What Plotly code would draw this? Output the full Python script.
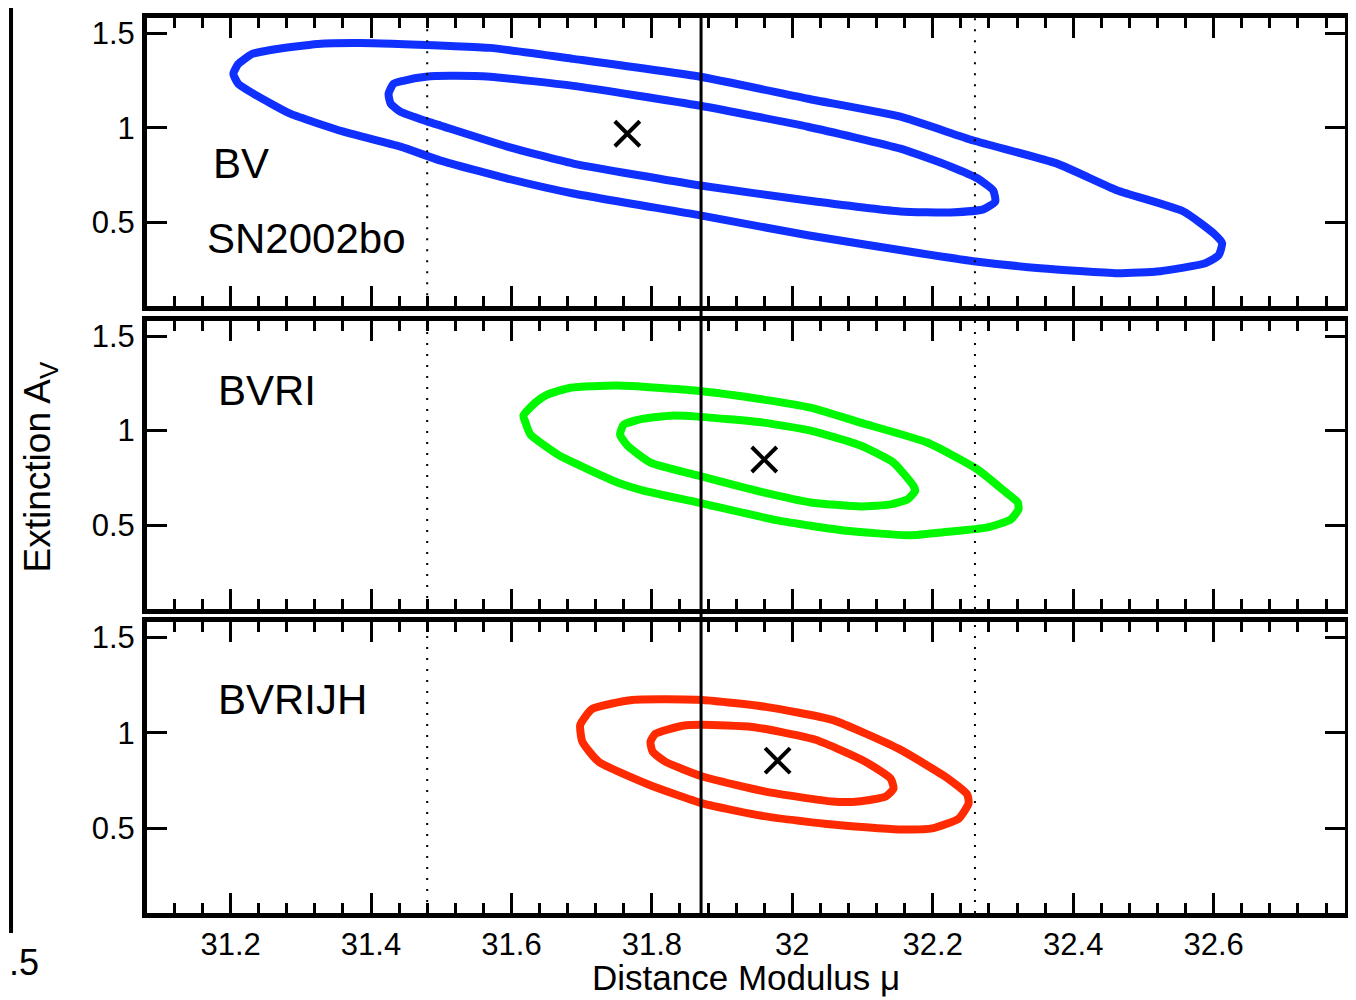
import plotly.graph_objects as go

# ---------------- data ----------------
# Panel 1: BV (SN2002bo)
bv_outer_x = [31.204, 31.211, 31.231, 31.257, 31.324, 31.385, 31.513, 31.570, 31.688, 31.869, 32.022, 32.154,
              32.258, 32.377, 32.463, 32.557, 32.600, 32.612, 32.607, 32.588, 32.524, 32.463, 32.353, 32.258,
              32.182, 32.022, 31.869, 31.688, 31.594, 31.499, 31.442, 31.361, 31.285, 31.233, 31.211, 31.204]
bv_outer_y = [1.285, 1.337, 1.390, 1.411, 1.443, 1.448, 1.432, 1.422, 1.364, 1.269, 1.153, 1.058,
              0.932, 0.810, 0.668, 0.557, 0.441, 0.389, 0.325, 0.283, 0.241, 0.230, 0.257, 0.294,
              0.336, 0.431, 0.536, 0.652, 0.731, 0.826, 0.900, 0.979, 1.074, 1.179, 1.232, 1.285]
bv_inner_x = [31.425, 31.432, 31.446, 31.478, 31.513, 31.570, 31.688, 31.869, 32.022, 32.154, 32.225, 32.264,
              32.286, 32.289, 32.272, 32.225, 32.154, 32.022, 31.869, 31.688, 31.594, 31.499, 31.481, 31.442,
              31.428, 31.425]
bv_inner_y = [1.179, 1.232, 1.248, 1.269, 1.274, 1.269, 1.221, 1.116, 1.005, 0.889, 0.795, 0.731,
              0.668, 0.610, 0.568, 0.552, 0.557, 0.615, 0.694, 0.810, 0.900, 1.011, 1.032, 1.084,
              1.127, 1.179]
bv_best = (31.765, 0.968)

# Panel 2: BVRI
bvri_outer_x = [31.617, 31.634, 31.651, 31.684, 31.751, 31.865, 31.959, 32.026, 32.097, 32.192, 32.264, 32.301,
                32.321, 32.322, 32.311, 32.278, 32.215, 32.168, 32.073, 31.979, 31.865, 31.788, 31.751, 31.694,
                31.666, 31.627, 31.620, 31.617]
bvri_outer_y = [1.079, 1.148, 1.190, 1.227, 1.238, 1.211, 1.164, 1.121, 1.042, 0.937, 0.794, 0.683,
                0.620, 0.583, 0.530, 0.488, 0.462, 0.446, 0.472, 0.525, 0.620, 0.683, 0.726, 0.821,
                0.873, 0.979, 1.042, 1.079]
bvri_inner_x = [31.755, 31.760, 31.788, 31.826, 31.865, 31.959, 32.026, 32.097, 32.144, 32.172, 32.175, 32.164,
                32.140, 32.097, 32.026, 31.959, 31.865, 31.798, 31.765, 31.755, 31.755]
bvri_inner_y = [0.989, 1.032, 1.063, 1.079, 1.074, 1.042, 1.000, 0.921, 0.831, 0.710, 0.683, 0.636,
                0.610, 0.599, 0.620, 0.673, 0.763, 0.831, 0.921, 0.974, 0.989]
bvri_best = (31.960, 0.847)

# Panel 3: BVRIJH
bvrijh_outer_x = [31.698, 31.715, 31.772, 31.872, 31.962, 32.057, 32.151, 32.222, 32.249, 32.251, 32.237, 32.199,
                  32.151, 32.057, 31.962, 31.872, 31.795, 31.724, 31.701, 31.698]
bvrijh_outer_y = [1.042, 1.125, 1.172, 1.172, 1.136, 1.068, 0.917, 0.760, 0.677, 0.630, 0.551, 0.499,
                  0.494, 0.520, 0.562, 0.630, 0.729, 0.849, 0.953, 1.042]
bvrijh_inner_x = [31.798, 31.805, 31.844, 31.872, 31.943, 32.033, 32.104, 32.140, 32.144, 32.133, 32.094, 32.057,
                  31.962, 31.872, 31.819, 31.801, 31.798]
bvrijh_inner_y = [0.953, 0.995, 1.037, 1.042, 1.031, 0.964, 0.849, 0.760, 0.708, 0.666, 0.640, 0.640,
                  0.692, 0.771, 0.849, 0.901, 0.953]
bvrijh_best = (31.979, 0.854)

mu_ref = 31.87
mu_ref_lo = 31.48
mu_ref_hi = 32.26

x_range = [31.081, 32.787]
y_range = [0.056, 1.58]
y_ticks = [0.5, 1, 1.5]

panel_labels = [["BV", "SN2002bo"], ["BVRI"], ["BVRIJH"]]
label_pos = [[(31.172, 0.81), (31.164, 0.415)], [(31.179, 1.21)], [(31.179, 1.172)]]

colors = ["#0f30ff", "#00f800", "#ff2a00"]

# ---------------- figure ----------------
FONT = "Liberation Sans, Arial, Helvetica, sans-serif"
fig = go.Figure()

panels = [
    (bv_outer_x, bv_outer_y, bv_inner_x, bv_inner_y, bv_best),
    (bvri_outer_x, bvri_outer_y, bvri_inner_x, bvri_inner_y, bvri_best),
    (bvrijh_outer_x, bvrijh_outer_y, bvrijh_inner_x, bvrijh_inner_y, bvrijh_best),
]
axnames = [("x", "y"), ("x2", "y2"), ("x3", "y3")]

for i, (ox, oy, ix, iy, best) in enumerate(panels):
    xa, ya = axnames[i]
    for cx, cy in ((ox, oy), (ix, iy)):
        fig.add_trace(go.Scatter(x=cx, y=cy, mode="lines", xaxis=xa, yaxis=ya,
                                 line=dict(color=colors[i], width=8, shape="spline", smoothing=0.5),
                                 showlegend=False, hoverinfo="skip"))
    fig.add_trace(go.Scatter(x=[best[0]], y=[best[1]], mode="markers", xaxis=xa, yaxis=ya,
                             marker=dict(symbol="x-thin", size=25, color="black",
                                         line=dict(width=4, color="black")),
                             showlegend=False, hoverinfo="skip"))
    for txt, (tx, ty) in zip(panel_labels[i], label_pos[i]):
        fig.add_annotation(x=tx, y=ty, xref=xa, yref=ya, text=txt, showarrow=False,
                           xanchor="left", yanchor="middle",
                           font=dict(family=FONT, size=42, color="black"))
    # dotted reference lines per panel
    for xv in (mu_ref_lo, mu_ref_hi):
        fig.add_shape(type="line", x0=xv, x1=xv, xref=xa, y0=0, y1=1, yref=ya + " domain",
                      line=dict(color="black", width=2, dash="2px,9px"), layer="above")

# solid reference line through all panels
fig.add_shape(type="line", x0=mu_ref, x1=mu_ref, xref="x", y0=0, y1=1, yref="paper",
              line=dict(color="black", width=3), layer="above")

domains = [[0.678, 1.0], [0.3396, 0.6615], [0.0, 0.325]]

axis_common = dict(showline=True, linewidth=5, linecolor="black", mirror="allticks",
                   showgrid=False, zeroline=False, ticks="inside", tickwidth=3,
                   tickcolor="black", tickfont=dict(family=FONT, size=31, color="black"))

# page body has an 8px margin, so the figure is made 8px smaller and margins shifted
layout = dict(width=1348, height=992, plot_bgcolor="white", paper_bgcolor="white",
              margin=dict(l=139, r=11, t=5, b=87), showlegend=False)

for i in range(3):
    xk = "xaxis" if i == 0 else f"xaxis{i+1}"
    yk = "yaxis" if i == 0 else f"yaxis{i+1}"
    ya = "y" if i == 0 else f"y{i+1}"
    xa = "x" if i == 0 else f"x{i+1}"
    layout[xk] = dict(axis_common, range=x_range, anchor=ya, tick0=31.2, dtick=0.2, ticklen=20,
                      showticklabels=(i == 2), ticklabelstandoff=0,
                      minor=dict(ticks="inside", tick0=31.2, dtick=0.04, ticklen=10, tickwidth=3,
                                 tickcolor="black", showgrid=False),
                      **({} if i == 0 else {"matches": "x"}))
    layout[yk] = dict(axis_common, range=y_range, domain=domains[i], anchor=xa,
                      tickvals=y_ticks, ticklen=20, ticklabelstandoff=1)

fig.update_layout(**layout)

# axis titles
fig.add_annotation(x=0.5, y=-0.0725, xref="paper", yref="paper", text="Distance Modulus \u03bc",
                   showarrow=False, xanchor="center", yanchor="middle",
                   font=dict(family=FONT, size=35, color="black"))
fig.add_annotation(x=-0.0892, y=0.498, xref="paper", yref="paper", text="Extinction A<sub>V</sub>",
                   showarrow=False, xanchor="center", yanchor="middle", textangle=-90,
                   font=dict(family=FONT, size=37, color="black"))

# edge of the neighbouring panel visible in the reference
fig.add_shape(type="line", x0=-0.1135, x1=-0.1135, xref="paper", y0=-0.0223, y1=1.0156, yref="paper",
              line=dict(color="black", width=4), layer="above")
fig.add_annotation(x=-0.0885, y=-0.0557, xref="paper", yref="paper", text="33.5", showarrow=False,
                   xanchor="right", yanchor="middle", font=dict(family=FONT, size=36, color="black"))

fig.write_html("out.html")
